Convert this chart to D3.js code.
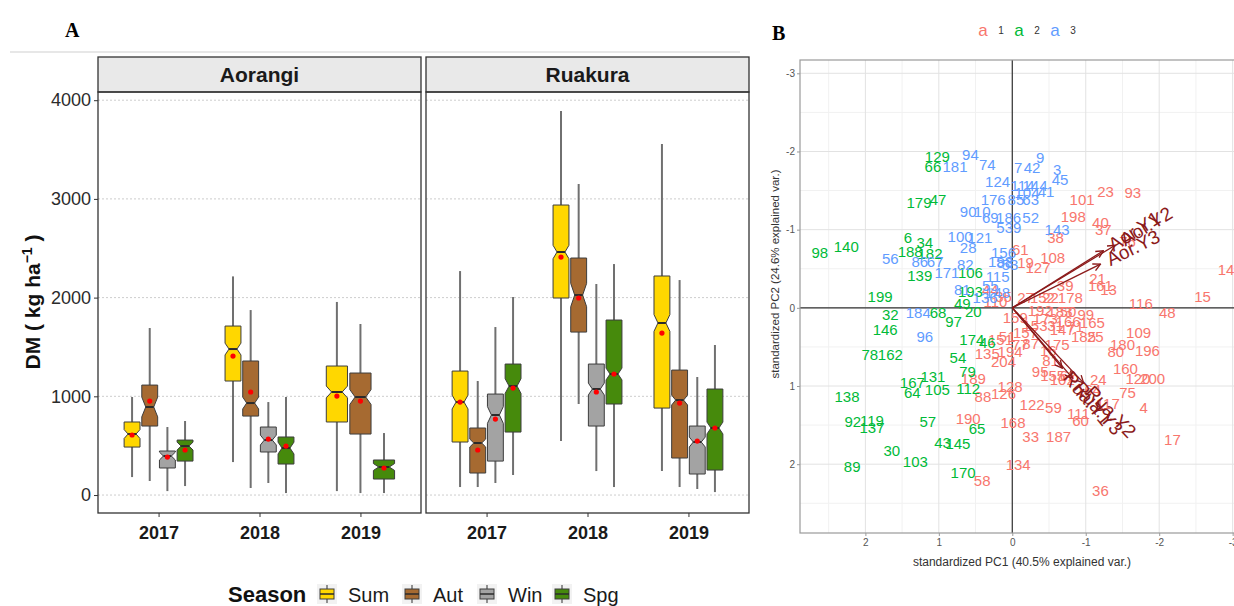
<!DOCTYPE html>
<html>
<head>
<meta charset="utf-8">
<script src="https://cdn.jsdelivr.net/npm/d3@7"></script>
<style>
body { margin: 0; background: #fff; }
svg text { font-family: "Liberation Sans", Arial, sans-serif; }
</style>
</head>
<body>
<div id="canvas"></div>
<script>
"use strict"

// ---- panel A data ----
let years = ["2017", "2018", "2019"]
let seasons = ["Sum", "Aut", "Win", "Spg"]
let yTicksA = [0, 1000, 2000, 3000, 4000]

// year, season, lower whisker, q1, median, q3, upper whisker, mean, notch half-width
let aorangiBoxes = [
    ["2017", "Sum", 182, 486, 618, 740, 993, 608, 45],
    ["2017", "Aut", 142, 699, 892, 1114, 1692, 952, 100],
    ["2017", "Win", 40, 274, 395, 446, 689, 385, 40],
    ["2017", "Spg", 91, 344, 496, 557, 750, 456, 40],
    ["2018", "Sum", 334, 1155, 1479, 1712, 2215, 1408, 60],
    ["2018", "Aut", 71, 800, 932, 1358, 1874, 1044, 60],
    ["2018", "Win", 122, 436, 557, 689, 942, 567, 50],
    ["2018", "Spg", 20, 314, 476, 588, 993, 496, 60],
    ["2019", "Sum", 40, 740, 1044, 1307, 1956, 1003, 60],
    ["2019", "Aut", 20, 618, 993, 1236, 1733, 952, 75],
    ["2019", "Spg", 20, 162, 284, 355, 628, 274, 35]
]

let ruakuraBoxes = [
    ["2017", "Sum", 81, 537, 942, 1256, 2269, 942, 70],
    ["2017", "Aut", 81, 223, 527, 679, 1155, 456, 40],
    ["2017", "Win", 122, 344, 811, 1023, 1702, 770, 85],
    ["2017", "Spg", 203, 638, 1104, 1327, 2006, 1084, 75],
    ["2018", "Sum", 547, 1996, 2462, 2938, 3891, 2411, 68],
    ["2018", "Aut", 922, 1651, 2026, 2401, 3151, 1996, 118],
    ["2018", "Win", 243, 699, 1074, 1327, 2138, 1044, 60],
    ["2018", "Spg", 81, 922, 1226, 1773, 2340, 1226, 60],
    ["2019", "Sum", 243, 881, 1743, 2219, 3556, 1641, 85],
    ["2019", "Aut", 81, 375, 962, 1266, 2178, 932, 50],
    ["2019", "Win", 61, 213, 537, 699, 1196, 547, 50],
    ["2019", "Spg", 30, 253, 679, 1074, 1520, 679, 60]
]

// ---- panel B data: id, PC1, PC2 ----
let cluster1 = [
    ["23", -1.27, -1.49], ["93", -1.64, -1.47], ["101", -0.95, -1.38], ["198", -0.83, -1.17],
    ["40", -1.20, -1.09], ["37", -1.24, -1.00], ["38", -0.59, -0.90], ["76", -1.57, -0.85],
    ["61", -0.11, -0.74], ["108", -0.55, -0.64], ["19", -0.18, -0.58], ["127", -0.35, -0.51],
    ["14", -2.91, -0.49], ["15", -2.59, -0.14], ["21", -1.16, -0.38], ["161", -1.20, -0.29],
    ["13", -1.31, -0.24], ["116", -1.75, -0.06], ["48", -2.11, 0.06], ["39", -0.72, -0.29],
    ["178", -0.79, -0.13], ["22", -0.52, -0.13], ["192", -0.38, 0.03], ["183", -0.65, 0.05],
    ["165", -1.09, 0.19], ["109", -1.72, 0.32], ["180", -1.50, 0.47], ["80", -1.41, 0.56],
    ["196", -1.84, 0.54], ["160", -1.54, 0.77], ["120", -1.71, 0.90], ["200", -1.91, 0.90],
    ["24", -1.17, 0.92], ["75", -1.57, 1.08], ["4", -1.79, 1.27], ["117", -1.30, 1.22],
    ["164", -1.04, 1.05], ["122", -0.27, 1.24], ["59", -0.56, 1.27], ["168", -0.01, 1.47],
    ["33", -0.25, 1.65], ["187", -0.63, 1.65], ["134", -0.08, 2.01], ["36", -1.20, 2.33],
    ["17", -2.18, 1.69], ["58", 0.41, 2.21], ["190", 0.60, 1.41], ["88", 0.40, 1.14],
    ["189", 0.53, 0.90], ["126", 0.12, 1.09], ["128", 0.03, 1.01], ["135", 0.34, 0.58],
    ["151", 0.16, 0.41], ["194", 0.03, 0.56], ["204", 0.12, 0.69], ["159", -0.04, 0.12],
    ["153", -0.31, 0.22], ["31", -0.59, 0.22], ["166", -0.76, 0.18], ["71", -0.86, 0.24],
    ["185", -0.97, 0.37], ["25", -1.13, 0.37], ["175", -0.61, 0.47], ["87", -0.25, 0.45],
    ["51", 0.07, 0.37], ["95", -0.38, 0.82], ["155", -0.55, 0.86], ["62", -0.76, 0.86],
    ["102", -0.68, 0.92], ["111", -0.90, 1.35], ["60", -0.93, 1.44], ["81", -0.52, 0.67],
    ["16", -0.49, 0.54], ["44", 0.30, -0.23], ["35", 0.12, -0.15], ["110", 0.23, -0.08],
    ["27", -0.18, -0.13], ["152", -0.41, -0.13], ["147", -0.68, 0.28], ["173", -0.45, 0.13],
    ["157", -0.18, 0.31], ["77", -0.11, 0.47], ["50", -0.76, 0.05], ["99", -1.00, 0.09]
]

let cluster2 = [
    ["98", 2.62, -0.71], ["140", 2.26, -0.78], ["129", 1.02, -1.94], ["66", 1.08, -1.81],
    ["179", 1.27, -1.35], ["47", 1.01, -1.38], ["6", 1.42, -0.90], ["34", 1.19, -0.83],
    ["188", 1.39, -0.72], ["182", 1.12, -0.69], ["139", 1.26, -0.42], ["106", 0.57, -0.45],
    ["199", 1.80, -0.15], ["193", 0.57, -0.21], ["32", 1.66, 0.09], ["146", 1.73, 0.28],
    ["68", 1.01, 0.06], ["49", 0.68, -0.05], ["97", 0.80, 0.18], ["20", 0.53, 0.05],
    ["174", 0.55, 0.41], ["46", 0.34, 0.44], ["78", 1.94, 0.60], ["162", 1.66, 0.60],
    ["54", 0.74, 0.63], ["167", 1.36, 0.95], ["131", 1.08, 0.88], ["64", 1.36, 1.08],
    ["105", 1.02, 1.05], ["79", 0.61, 0.82], ["112", 0.60, 1.03], ["138", 2.25, 1.13],
    ["92", 2.17, 1.46], ["119", 1.91, 1.44], ["137", 1.91, 1.53], ["57", 1.15, 1.46],
    ["65", 0.48, 1.54], ["43", 0.95, 1.72], ["145", 0.74, 1.73], ["30", 1.64, 1.82],
    ["103", 1.32, 1.97], ["89", 2.18, 2.03], ["170", 0.67, 2.10]
]

let cluster3 = [
    ["94", 0.57, -1.96], ["181", 0.78, -1.81], ["74", 0.34, -1.83], ["7", -0.08, -1.79],
    ["42", -0.27, -1.79], ["9", -0.38, -1.92], ["3", -0.61, -1.77], ["45", -0.65, -1.64],
    ["124", 0.20, -1.62], ["114", -0.14, -1.56], ["104", -0.20, -1.47], ["41", -0.46, -1.49],
    ["144", -0.31, -1.56], ["176", 0.26, -1.38], ["85", -0.05, -1.38], ["63", -0.25, -1.38],
    ["90", 0.60, -1.23], ["10", 0.41, -1.23], ["69", 0.30, -1.15], ["186", 0.05, -1.15],
    ["52", -0.25, -1.15], ["5", 0.16, -1.03], ["39", -0.01, -1.03], ["143", -0.61, -1.00],
    ["100", 0.71, -0.91], ["121", 0.44, -0.90], ["28", 0.60, -0.77], ["56", 1.66, -0.63],
    ["156", 0.12, -0.71], ["83", 0.10, -0.58], ["86", 1.26, -0.59], ["67", 1.05, -0.59],
    ["171", 0.89, -0.45], ["82", 0.64, -0.56], ["115", 0.20, -0.40], ["55", 0.30, -0.29],
    ["184", 1.28, 0.06], ["96", 1.19, 0.37], ["158", 0.16, -0.59], ["53", 0.03, -0.55],
    ["81", 0.68, -0.23], ["136", 0.37, -0.13], ["148", 0.20, -0.19]
]

let loadingNames = ["Aor.Y1", "Aor.Y2", "Aor.Y3", "Rua.Y1", "Rua.Y2", "Rua.Y3"]
let loadingPC1 = [-1.24, -1.40, -1.20, -0.68, -0.97, -0.82]
let loadingPC2 = [-0.73, -0.80, -0.56, 0.77, 0.96, 0.90]

let ticksB1 = [2, 1, 0, -1, -2, -3]
let ticksB2 = [-3, -2, -1, 0, 1, 2]

// ---- styles ----
let seasonColors = { Sum: "#FFD700", Aut: "#A66A31", Win: "#A3A3A3", Spg: "#468A0C" }
let clusterColors = ["#F8766D", "#00BA38", "#619CFF"]

let svgWidth = 1234
let svgHeight = 606

let svg = d3.select("#canvas")
    .append("svg")
    .attr("width", svgWidth)
    .attr("height", svgHeight)

svg.append("rect")
    .attr("width", svgWidth)
    .attr("height", svgHeight)
    .attr("fill", "#fff")

// =================== PANEL A ===================
let stripTop = 57
let panelTop = 92
let panelBottom = 513
let facetWidth = 323

let yScaleA = d3.scaleLinear()
    .domain([-182, 4083])
    .range([panelBottom, panelTop])

svg.append("text")
    .attr("x", 65).attr("y", 37)
    .style("font-family", "Liberation Serif, serif")
    .style("font-weight", "bold")
    .style("font-size", "20px")
    .text("A")

svg.append("line")
    .attr("x1", 10).attr("x2", 740)
    .attr("y1", 52).attr("y2", 52)
    .attr("stroke", "#cfcfcf")

drawFacet(svg.append("g"), "Aorangi", aorangiBoxes, 98)
drawFacet(svg.append("g"), "Ruakura", ruakuraBoxes, 426)

let yAxisA = svg.append("g")
    .attr("transform", "translate(98,0)")
    .call(d3.axisLeft(yScaleA).tickValues(yTicksA).tickFormat(d3.format("d")).tickSize(4).tickPadding(3))
yAxisA.select(".domain").remove()
yAxisA.selectAll("text").style("font-size", "18px").attr("fill", "#2b2b2b")
yAxisA.selectAll("line").attr("stroke", "#333")

let yTitle = svg.append("text")
    .attr("transform", "translate(40,302) rotate(-90)")
    .attr("text-anchor", "middle")
    .style("font-weight", "bold")
    .style("font-size", "21px")
    .attr("fill", "#111")
yTitle.append("tspan").text("DM ( kg ha")
yTitle.append("tspan").attr("dy", -8).style("font-size", "14px").text("\u22121")
yTitle.append("tspan").attr("dy", 8).text(" )")

function drawFacet(g, name, boxes, left) {
    let xScale = d3.scalePoint()
        .domain(years)
        .range([left, left + facetWidth])
        .padding(0.6)

    g.append("rect")
        .attr("x", left).attr("y", stripTop)
        .attr("width", facetWidth).attr("height", panelTop - stripTop)
        .attr("fill", "#e9e9e9")
        .attr("stroke", "#333")
        .attr("stroke-width", 1.3)

    g.append("text")
        .attr("x", left + facetWidth / 2)
        .attr("y", (stripTop + panelTop) / 2 + 7)
        .attr("text-anchor", "middle")
        .style("font-weight", "bold")
        .style("font-size", "21px")
        .attr("fill", "#1a1a1a")
        .text(name)

    g.selectAll("line.grid")
        .data(yTicksA)
        .join("line")
        .classed("grid", true)
        .attr("x1", left).attr("x2", left + facetWidth)
        .attr("y1", function (d) { return yScaleA(d) })
        .attr("y2", function (d) { return yScaleA(d) })
        .attr("stroke", "#cdcdcd")
        .attr("stroke-dasharray", "2,2")

    let rows = boxes.map(function (b) {
        let sameYear = boxes.filter(function (o) { return o[0] === b[0] })
        let slot = 0.7 * xScale.step() / sameYear.length
        let i = sameYear.indexOf(b)
        return {
            season: b[1], low: b[2], q1: b[3], med: b[4], q3: b[5], high: b[6], mean: b[7], notch: b[8],
            cx: xScale(b[0]) + (i - (sameYear.length - 1) / 2) * slot,
            w: slot * 0.9
        }
    })

    g.selectAll("line.whisker")
        .data(rows)
        .join("line")
        .classed("whisker", true)
        .attr("x1", function (d) { return d.cx })
        .attr("x2", function (d) { return d.cx })
        .attr("y1", function (d) { return yScaleA(d.low) })
        .attr("y2", function (d) { return yScaleA(d.high) })
        .attr("stroke", "#707070")
        .attr("stroke-width", 2)

    g.selectAll("path.box")
        .data(rows)
        .join("path")
        .classed("box", true)
        .attr("d", function (d) {
            let l = d.cx - d.w / 2, r = d.cx + d.w / 2
            let il = d.cx - d.w / 4, ir = d.cx + d.w / 4
            let yq3 = yScaleA(d.q3), yq1 = yScaleA(d.q1), ym = yScaleA(d.med)
            let nTop = yScaleA(d.med + d.notch), nBot = yScaleA(d.med - d.notch)
            return "M" + l + "," + yq3 + "L" + r + "," + yq3 + "L" + r + "," + nTop +
                "L" + ir + "," + ym + "L" + r + "," + nBot + "L" + r + "," + yq1 +
                "L" + l + "," + yq1 + "L" + l + "," + nBot + "L" + il + "," + ym +
                "L" + l + "," + nTop + "Z"
        })
        .attr("fill", function (d) { return seasonColors[d.season] })
        .attr("stroke", "#3d3d3d")
        .attr("stroke-width", 1)

    g.selectAll("line.median")
        .data(rows)
        .join("line")
        .classed("median", true)
        .attr("x1", function (d) { return d.cx - d.w / 4 })
        .attr("x2", function (d) { return d.cx + d.w / 4 })
        .attr("y1", function (d) { return yScaleA(d.med) })
        .attr("y2", function (d) { return yScaleA(d.med) })
        .attr("stroke", "#2b2b2b")
        .attr("stroke-width", 2)

    g.selectAll("circle.mean")
        .data(rows)
        .join("circle")
        .classed("mean", true)
        .attr("cx", function (d) { return d.cx })
        .attr("cy", function (d) { return yScaleA(d.mean) })
        .attr("r", 2.6)
        .attr("fill", "#ff0000")

    g.append("rect")
        .attr("x", left).attr("y", panelTop)
        .attr("width", facetWidth).attr("height", panelBottom - panelTop)
        .attr("fill", "none")
        .attr("stroke", "#333")
        .attr("stroke-width", 1.3)

    let xAxis = g.append("g")
        .attr("transform", `translate(0,${panelBottom})`)
        .call(d3.axisBottom(xScale).tickSize(4).tickPadding(9))
    xAxis.select(".domain").remove()
    xAxis.selectAll("text")
        .style("font-size", "18px")
        .style("font-weight", "bold")
        .attr("fill", "#1a1a1a")
    xAxis.selectAll("line").attr("stroke", "#333")
}

// legend
let legendA = svg.append("g")
legendA.append("text")
    .attr("x", 228).attr("y", 602)
    .style("font-weight", "bold")
    .style("font-size", "22px")
    .attr("fill", "#111")
    .text("Season")

let legendX = d3.scaleOrdinal().domain(seasons).range([327, 412, 487, 562])

let keys = legendA.selectAll("g.key")
    .data(seasons)
    .join("g")
    .classed("key", true)
    .attr("transform", function (d) { return `translate(${legendX(d)},594)` })

keys.append("rect")
    .attr("x", -10).attr("y", -10).attr("width", 20).attr("height", 20)
    .attr("fill", "#f2f2f2")
keys.append("line")
    .attr("y1", -9).attr("y2", 9)
    .attr("stroke", "#707070").attr("stroke-width", 1.5)
keys.append("rect")
    .attr("x", -7).attr("y", -5).attr("width", 14).attr("height", 10)
    .attr("fill", function (d) { return seasonColors[d] })
    .attr("stroke", "#3d3d3d")
keys.append("line")
    .attr("x1", -7).attr("x2", 7)
    .attr("stroke", "#2b2b2b").attr("stroke-width", 1.5)
keys.append("text")
    .attr("x", 21).attr("y", 8)
    .style("font-size", "20px")
    .attr("fill", "#1a1a1a")
    .text(function (d) { return d })

// =================== PANEL B ===================
let leftB = 800, rightB = 1240, topB = 60, bottomB = 533

let xScaleB = d3.scaleLinear().domain([2.89, -3.1]).range([leftB, rightB])
let yScaleB = d3.scaleLinear().domain([-3.17, 2.88]).range([topB, bottomB])

svg.append("text")
    .attr("x", 772).attr("y", 40)
    .style("font-family", "Liberation Serif, serif")
    .style("font-weight", "bold")
    .style("font-size", "20px")
    .text("B")

let plotB = svg.append("g")

let minorX = d3.range(-3, 3, 1).map(function (v) { return v + 0.5 })
let minorY = d3.range(-3, 3, 1).map(function (v) { return v + 0.5 })

plotB.selectAll("line.minorx")
    .data(minorX)
    .join("line")
    .classed("minorx", true)
    .attr("x1", function (d) { return xScaleB(d) })
    .attr("x2", function (d) { return xScaleB(d) })
    .attr("y1", topB).attr("y2", bottomB)
    .attr("stroke", "#f1f1f1")

plotB.selectAll("line.minory")
    .data(minorY)
    .join("line")
    .classed("minory", true)
    .attr("y1", function (d) { return yScaleB(d) })
    .attr("y2", function (d) { return yScaleB(d) })
    .attr("x1", leftB).attr("x2", rightB)
    .attr("stroke", "#f1f1f1")

plotB.selectAll("line.majorx")
    .data(ticksB1)
    .join("line")
    .classed("majorx", true)
    .attr("x1", function (d) { return xScaleB(d) })
    .attr("x2", function (d) { return xScaleB(d) })
    .attr("y1", topB).attr("y2", bottomB)
    .attr("stroke", "#e2e2e2")

plotB.selectAll("line.majory")
    .data(ticksB2)
    .join("line")
    .classed("majory", true)
    .attr("y1", function (d) { return yScaleB(d) })
    .attr("y2", function (d) { return yScaleB(d) })
    .attr("x1", leftB).attr("x2", rightB)
    .attr("stroke", "#e2e2e2")

plotB.append("line")
    .attr("x1", xScaleB(0)).attr("x2", xScaleB(0))
    .attr("y1", topB).attr("y2", bottomB)
    .attr("stroke", "#333").attr("stroke-width", 1.2)
plotB.append("line")
    .attr("x1", leftB).attr("x2", rightB)
    .attr("y1", yScaleB(0)).attr("y2", yScaleB(0))
    .attr("stroke", "#333").attr("stroke-width", 1.2)

plotB.append("rect")
    .attr("x", leftB).attr("y", topB)
    .attr("width", rightB - leftB).attr("height", bottomB - topB)
    .attr("fill", "none")
    .attr("stroke", "#9a9a9a")
    .attr("stroke-width", 1.2)

let plainNumber = function (d) { return String(d) }

let xAxisB = svg.append("g")
    .attr("transform", `translate(0,${bottomB})`)
    .call(d3.axisBottom(xScaleB).tickValues(ticksB1).tickFormat(plainNumber).tickSize(3).tickPadding(3))
let yAxisB = svg.append("g")
    .attr("transform", `translate(${leftB},0)`)
    .call(d3.axisLeft(yScaleB).tickValues(ticksB2).tickFormat(plainNumber).tickSize(3).tickPadding(2))
;[xAxisB, yAxisB].forEach(function (ax) {
    ax.select(".domain").remove()
    ax.selectAll("line").attr("stroke", "#9a9a9a")
    ax.selectAll("text").style("font-size", "10px").attr("fill", "#555")
})

svg.append("text")
    .attr("x", 1022).attr("y", 566)
    .attr("text-anchor", "middle")
    .style("font-size", "12px")
    .attr("fill", "#333")
    .text("standardized PC1 (40.5% explained var.)")

svg.append("text")
    .attr("transform", "translate(779,274) rotate(-90)")
    .attr("text-anchor", "middle")
    .style("font-size", "11.5px")
    .attr("fill", "#333")
    .text("standardized PC2 (24.6% explained var.)")

let scoreGroups = [cluster1, cluster2, cluster3]
scoreGroups.forEach(function (group, gi) {
    plotB.selectAll("text.c" + gi)
        .data(group)
        .join("text")
        .classed("c" + gi, true)
        .attr("x", function (d) { return xScaleB(d[1]) })
        .attr("y", function (d) { return yScaleB(d[2]) })
        .attr("text-anchor", "middle")
        .attr("dominant-baseline", "central")
        .style("font-size", "15px")
        .attr("fill", clusterColors[gi])
        .text(function (d) { return d[0] })
})

let defs = svg.append("defs")
defs.append("marker")
    .attr("id", "arrowHead")
    .attr("viewBox", "0 0 10 10")
    .attr("refX", 9).attr("refY", 5)
    .attr("markerWidth", 7).attr("markerHeight", 7)
    .attr("orient", "auto")
    .append("path")
    .attr("d", "M1,1 L9,5 L1,9")
    .attr("fill", "none")
    .attr("stroke", "#8B1A1A")
    .attr("stroke-width", 1.5)

let loadings = loadingNames.map(function (name, i) {
    return { name: name, pc1: loadingPC1[i], pc2: loadingPC2[i] }
})

plotB.selectAll("line.loading")
    .data(loadings)
    .join("line")
    .classed("loading", true)
    .attr("x1", xScaleB(0)).attr("y1", yScaleB(0))
    .attr("x2", function (d) { return xScaleB(d.pc1) })
    .attr("y2", function (d) { return yScaleB(d.pc2) })
    .attr("stroke", "#8B1A1A")
    .attr("stroke-width", 1.3)
    .attr("marker-end", "url(#arrowHead)")

plotB.selectAll("text.loading")
    .data(loadings)
    .join("text")
    .classed("loading", true)
    .attr("transform", function (d) {
        let dx = xScaleB(d.pc1) - xScaleB(0)
        let dy = yScaleB(d.pc2) - yScaleB(0)
        let angle = Math.atan2(dy, dx)
        let len = Math.sqrt(dx * dx + dy * dy) + 8
        let tx = xScaleB(0) + len * Math.cos(angle)
        let ty = yScaleB(0) + len * Math.sin(angle)
        return `translate(${tx},${ty}) rotate(${angle * 180 / Math.PI})`
    })
    .attr("dominant-baseline", "central")
    .style("font-size", "19px")
    .attr("fill", "#8B1A1A")
    .text(function (d) { return d.name })

// top legend
let legendB = svg.append("g")
legendB.selectAll("text.swatch")
    .data(clusterColors)
    .join("text")
    .classed("swatch", true)
    .attr("x", function (d, i) { return 983 + i * 36 })
    .attr("y", 36)
    .attr("text-anchor", "middle")
    .style("font-size", "17px")
    .attr("fill", function (d) { return d })
    .text("a")
legendB.selectAll("text.lab")
    .data(["1", "2", "3"])
    .join("text")
    .classed("lab", true)
    .attr("x", function (d, i) { return 1001 + i * 36 })
    .attr("y", 34)
    .attr("text-anchor", "middle")
    .style("font-size", "10px")
    .attr("fill", "#333")
    .text(function (d) { return d })
</script>
</body>
</html>
